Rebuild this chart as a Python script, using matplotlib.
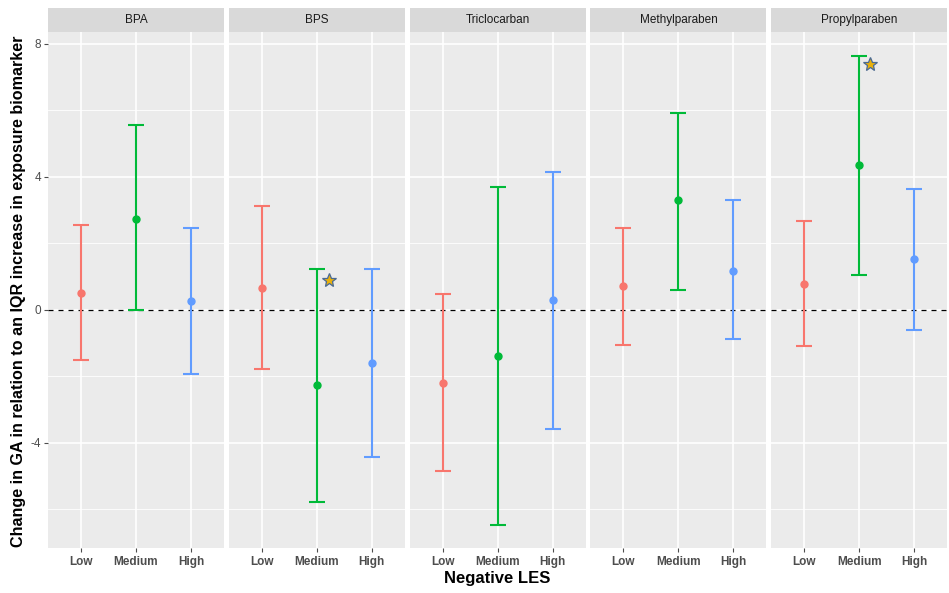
import numpy as np
import matplotlib
matplotlib.use("Agg")
import matplotlib.pyplot as plt

plt.rcParams["font.family"] = ["Liberation Sans", "DejaVu Sans"]

# --- data ---
chemicals = ["BPA", "BPS", "Triclocarban", "Methylparaben", "Propylparaben"]
levels = ["Low", "Medium", "High"]
estimate = {
    "BPA": [0.51, 2.74, 0.27],
    "BPS": [0.67, -2.27, -1.59],
    "Triclocarban": [-2.20, -1.38, 0.30],
    "Methylparaben": [0.73, 3.29, 1.18],
    "Propylparaben": [0.78, 4.35, 1.52],
}
ci_low = {
    "BPA": [-1.50, -0.02, -1.94],
    "BPS": [-1.78, -5.77, -4.43],
    "Triclocarban": [-4.86, -6.47, -3.57],
    "Methylparaben": [-1.05, 0.60, -0.89],
    "Propylparaben": [-1.10, 1.06, -0.62],
}
ci_high = {
    "BPA": [2.55, 5.54, 2.46],
    "BPS": [3.13, 1.24, 1.24],
    "Triclocarban": [0.48, 3.68, 4.14],
    "Methylparaben": [2.46, 5.93, 3.29],
    "Propylparaben": [2.67, 7.62, 3.62],
}
# significance stars: (chemical, x position, y value)
stars = [("BPS", 2.22, 0.89), ("Propylparaben", 2.2, 7.40)]

colors = ["#F8766D", "#00BA38", "#619CFF"]

W, H = 949, 593
fig = plt.figure(figsize=(W / 100, H / 100), dpi=100)

left0 = 48
pw = 176
step = 180.8
top_px, bot_px = 32, 548
strip_h = 24
ylim = (-7.16, 8.35)

for i, chem in enumerate(chemicals):
    x0 = left0 + i * step
    ax = fig.add_axes([x0 / W, 1 - bot_px / H, pw / W, (bot_px - top_px) / H])
    ax.set_facecolor("#EBEBEB")
    for s in ax.spines.values():
        s.set_visible(False)
    ax.set_xlim(0.4, 3.6)
    ax.set_ylim(*ylim)

    # grid
    for y in [-6, -2, 2, 6]:
        ax.axhline(y, color="white", lw=0.6, zorder=0)
    for y in [-4, 0, 4, 8]:
        ax.axhline(y, color="white", lw=1.2, zorder=0)
    for xx in [1, 2, 3]:
        ax.axvline(xx, color="white", lw=1.2, zorder=0)

    ax.axhline(0, color="black", lw=0.9, ls=(0, (4, 4)), zorder=2)

    xs = np.arange(1, 4)
    for j in range(3):
        ax.errorbar(xs[j], estimate[chem][j],
                    yerr=[[estimate[chem][j] - ci_low[chem][j]],
                          [ci_high[chem][j] - estimate[chem][j]]],
                    fmt="o", color=colors[j], ms=5, elinewidth=1.5,
                    capsize=5.5, capthick=1.5, zorder=3)

    for sc, sx, sy in stars:
        if sc == chem:
            ax.plot(sx, sy, marker="*", ms=10.5, mfc="#E8B00C",
                    mec="#4A6A94", mew=0.9, zorder=4)

    ax.set_xticks(xs)
    ax.set_xticklabels(levels, fontsize=8.5, fontweight="bold", color="#4D4D4D")
    ax.tick_params(axis="x", length=3, color="#4D4D4D", pad=3)
    if i == 0:
        ax.set_yticks([-4, 0, 4, 8])
        ax.set_yticklabels(["-4", "0", "4", "8"], fontsize=8.5, color="#4D4D4D")
        ax.tick_params(axis="y", length=3, color="#4D4D4D", pad=2)
    else:
        ax.set_yticks([])

    # facet strip
    sax = fig.add_axes([x0 / W, 1 - top_px / H, pw / W, strip_h / H])
    sax.set_facecolor("#D9D9D9")
    sax.set_xticks([])
    sax.set_yticks([])
    for s in sax.spines.values():
        s.set_visible(False)
    sax.text(0.5, 0.5, chem, ha="center", va="center", fontsize=8.5,
             color="#1A1A1A", transform=sax.transAxes)

fig.text(497 / W, 1 - 579 / H, "Negative LES", ha="center", va="center",
         fontsize=12, fontweight="bold")
fig.text(19 / W, 1 - 291 / H,
         "Change in GA in relation to an IQR increase in exposure biomarker",
         ha="center", va="center", rotation=90, fontsize=11.6, fontweight="bold")

fig.savefig("out.png", dpi=100)
